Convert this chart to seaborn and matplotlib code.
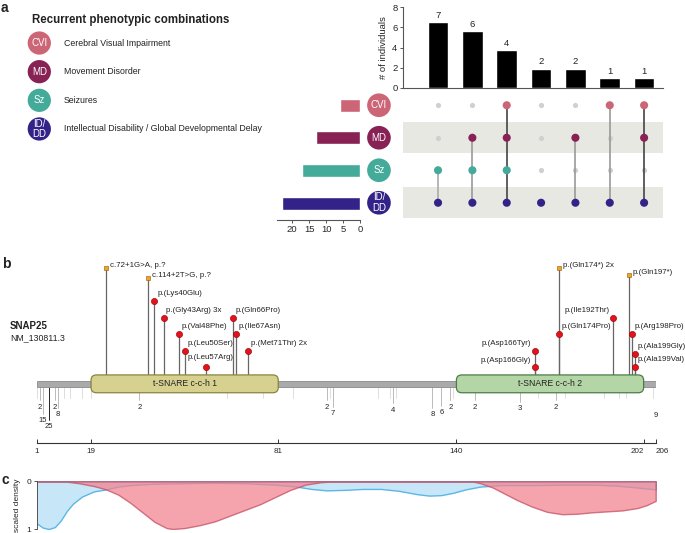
import numpy as np
import pandas as pd
import seaborn as sns
import matplotlib.pyplot as plt
from matplotlib.patches import FancyBboxPatch, Rectangle

# ---- panel a: recurrent phenotype combinations
phenos = ['CVI', 'MD', 'Sz', 'ID/DD']
pheno_tags = ['CVI', 'MD', 'Sz', 'ID/\nDD']
pheno_names = ['Cerebral Visual Impairment', 'Movement Disorder', 'Seizures',
               'Intellectual Disability / Global Developmental Delay']
pheno_colors = ['#CC6677', '#882255', '#44AA99', '#332288']

combo_sets = [['Sz', 'ID/DD'],
              ['MD', 'Sz', 'ID/DD'],
              ['CVI', 'MD', 'Sz', 'ID/DD'],
              ['ID/DD'],
              ['MD', 'ID/DD'],
              ['CVI', 'ID/DD'],
              ['CVI', 'MD', 'ID/DD']]
combo_counts = [7, 6, 4, 2, 2, 1, 1]
combo_bar = [6.5, 5.6, 3.75, 1.9, 1.9, 0.95, 0.95]  # bar tops as drawn in the original

# ---- panel b: SNAP25 variants
var_labels = ['c.72+1G>A, p.?', 'c.114+2T>G, p.?', 'p.(Lys40Glu)', 'p.(Gly43Arg) 3x',
              'p.(Val48Phe)', 'p.(Leu50Ser)', 'p.(Leu57Arg)', 'p.(Gln66Pro)',
              'p.(Ile67Asn)', 'p.(Met71Thr) 2x', 'p.(Asp166Tyr)', 'p.(Asp166Gly)',
              'p.(Gln174*) 2x', 'p.(Gln174Pro)', 'p.(Ile192Thr)', 'p.(Gln197*)',
              'p.(Arg198Pro)', 'p.(Ala199Gly)', 'p.(Ala199Val)']
var_pos = [24, 38, 40, 43, 48, 50, 57, 66, 67, 71, 166, 166, 174, 174, 192, 197, 198, 199, 199]
var_kind = ['trunc', 'trunc', 'mis', 'mis', 'mis', 'mis', 'mis', 'mis', 'mis', 'mis',
            'mis', 'mis', 'trunc', 'mis', 'mis', 'trunc', 'mis', 'mis', 'mis']
var_level = [7.05, 6.4, 5, 4, 3, 2, 1, 4, 3, 2, 2, 1, 7.05, 3, 4, 6.6, 3, 1.8, 1]
var_ha = ['left', 'left', 'left', 'left', 'left', 'left', 'center', 'left', 'left', 'left',
          'right', 'right', 'left', 'left', 'right', 'left', 'left', 'left', 'left']

pop_pos = [1, 2, 3, 5, 7, 8, 10, 12, 16, 19, 35, 64, 76, 86, 97, 98, 99, 114, 118, 119,
           120, 132, 135, 138, 139, 146, 161, 167, 173, 176, 189, 194, 196, 205, 206]
pop_count = [1, 2, 15, 25, 2, 8, 1, 1, 1, 1, 2, 1, 1, 1, 2, 1, 7, 1, 1, 4,
             1, 8, 6, 2, 1, 2, 3, 1, 2, 1, 1, 1, 1, 1, 9]

domain_names = ['t-SNARE c-c-h 1', 't-SNARE c-c-h 2']
domain_start = [19, 140]
domain_end = [81, 202]
prot_ticks = [1, 19, 81, 140, 202, 206]

# ---- panel c: scaled densities along the protein
pop_dens_x = [1, 3, 5, 7, 9, 11, 13, 16, 20, 24, 28, 32, 40, 50, 60, 70, 80, 87, 92, 97,
              103, 109, 115, 121, 127, 131, 135, 139, 143, 148, 155, 165, 175, 185, 193, 200, 206]
pop_dens_y = [0.88, 0.97, 1.0, 0.96, 0.82, 0.62, 0.47, 0.32, 0.21, 0.17, 0.11, 0.08, 0.05,
              0.04, 0.03, 0.04, 0.07, 0.11, 0.16, 0.19, 0.18, 0.16, 0.16, 0.2, 0.27, 0.3,
              0.29, 0.24, 0.17, 0.11, 0.08, 0.08, 0.07, 0.07, 0.09, 0.13, 0.17]
pat_dens_x = [1, 10, 15, 20, 24, 28, 32, 36, 40, 44, 46, 50, 55, 60, 65, 70, 75, 80, 85, 90,
              95, 100, 145, 148, 152, 156, 160, 165, 170, 175, 180, 185, 190, 195, 200, 203, 206]
pat_dens_y = [0.0, 0.0, 0.04, 0.1, 0.17, 0.28, 0.45, 0.65, 0.85, 0.98, 1.0, 0.98, 0.92, 0.84,
              0.72, 0.6, 0.48, 0.33, 0.18, 0.07, 0.02, 0.0, 0.0, 0.04, 0.13, 0.26, 0.39,
              0.53, 0.64, 0.69, 0.68, 0.65, 0.63, 0.61, 0.56, 0.5, 0.41]

set_sizes = [sum(c for s, c in zip(combo_sets, combo_counts) if p in s) for p in phenos]

sns.set_theme(style='white')
plt.rcParams['font.family'] = ['Liberation Sans', 'DejaVu Sans']
plt.rcParams['text.color'] = '#222222'

W, H = 685, 533
fig = plt.figure(figsize=(W / 100, H / 100), dpi=100)


def box(x0, y0, x1, y1):
    return fig.add_axes([x0 / W, 1 - y1 / H, (x1 - x0) / W, (y1 - y0) / H])


# ---------- intersection bars
ax_bar = box(403, 7.3, 663, 87.7)
sns.barplot(x=list(range(len(combo_bar))), y=combo_bar, color='black', width=0.6,
            saturation=1, ax=ax_bar)
for i, (h, c) in enumerate(zip(combo_bar, combo_counts)):
    ax_bar.text(i, h + 0.25, str(c), ha='center', va='bottom', fontsize=6.8)
ax_bar.set_xlim(-1.02, 6.55)
ax_bar.set_ylim(0, 8)
ax_bar.set_yticks([0, 2, 4, 6, 8])
ax_bar.set_xticks([])
ax_bar.set_ylabel('# of individuals', fontsize=6.8, labelpad=3)
sns.despine(ax=ax_bar)
for s in ['left', 'bottom']:
    ax_bar.spines[s].set_color('#555555')
    ax_bar.spines[s].set_linewidth(0.8)
ax_bar.tick_params(axis='y', labelsize=6.8, length=2.5, width=0.7, pad=1.5,
                   left=True, color='#555555')

# ---------- matrix
ax_mat = box(403, 89, 663, 219)
ax_mat.axhspan(0.52, 1.48, color='#e8e8e3', lw=0, zorder=0)
ax_mat.axhspan(2.52, 3.48, color='#e8e8e3', lw=0, zorder=0)
rows = []
for j, sset in enumerate(combo_sets):
    for i, p in enumerate(phenos):
        rows.append({'col': j, 'row': i, 'pheno': p, 'on': p in sset})
mat = pd.DataFrame(rows)
sns.scatterplot(data=mat[~mat['on']], x='col', y='row', color='#d0d0d0', s=14,
                linewidth=0, ax=ax_mat, zorder=1)
line_cols = ['#aaaaaa', '#999999', '#444444', '#999999', '#999999', '#999999', '#444444']
for j in range(len(combo_sets)):
    on = mat[(mat['col'] == j) & mat['on']]['row']
    if len(on) > 1:
        ax_mat.plot([j, j], [on.min(), on.max()], color=line_cols[j], lw=1.2, zorder=2)
sns.scatterplot(data=mat[mat['on']], x='col', y='row', hue='pheno',
                palette=dict(zip(phenos, pheno_colors)), s=34, linewidth=0,
                legend=False, ax=ax_mat, zorder=3)
ax_mat.scatter([-1.72] * 4, range(4), s=290, c=pheno_colors, linewidth=0,
               clip_on=False, zorder=4)
for i, t in enumerate(pheno_tags):
    ax_mat.text(-1.72, i, t, color='white', ha='center', va='center', fontsize=7,
                linespacing=1.1, zorder=5, clip_on=False)
ax_mat.set_xlim(-1.02, 6.55)
ax_mat.set_ylim(3.5, -0.5)
ax_mat.axis('off')

# ---------- set sizes
ax_set = box(277, 89, 360, 219.5)
sns.barplot(x=set_sizes, y=phenos, hue=phenos, palette=pheno_colors, orient='h',
            width=0.4, saturation=1, legend=False, ax=ax_set)
ax_set.set_xlim(24.5, 0)
ax_set.set_ylim(3.5, -0.5)
ax_set.set_xticks([20, 15, 10, 5, 0])
ax_set.set_yticks([])
ax_set.set_xlabel('')
ax_set.set_ylabel('')
for s in ['left', 'top', 'right']:
    ax_set.spines[s].set_visible(False)
ax_set.spines['bottom'].set_color('#555555')
ax_set.spines['bottom'].set_linewidth(0.8)
ax_set.tick_params(axis='x', labelsize=6.8, length=2.5, width=0.7, pad=1.5,
                   bottom=True, color='#555555')

# ---------- legend
ax_leg = box(0, 28.7, 340, 143.3)
ax_leg.set_xlim(0, 340)
ax_leg.set_ylim(3.5, -0.5)
ax_leg.axis('off')
ax_leg.scatter([39.3] * 4, range(4), s=280, c=pheno_colors, linewidth=0)
for i, (t, n) in enumerate(zip(pheno_tags, pheno_names)):
    ax_leg.text(39.3, i, t, color='white', ha='center', va='center', fontsize=7,
                linespacing=1.1)
    ax_leg.text(64, i, n, ha='left', va='center', fontsize=6.3)
fig.text(32 / W, 1 - 20 / H, 'Recurrent phenotypic combinations', fontsize=8.3,
         fontweight='bold', va='center', ha='left')

# ---------- protein (panel b)
ax_prot = box(36.7, 255, 655.7, 460)
ax_prot.set_xlim(1, 206)
ax_prot.set_ylim(-4.606, 7.818)
ax_prot.add_patch(Rectangle((1, -0.21), 205, 0.42, fc='#aaaaaa', ec='#8a8a8a', lw=0.6,
                            zorder=2))
dom_fc = ['#d7d190', '#b4d5a6']
dom_ec = ['#8a8440', '#4d7c47']
for k, name in enumerate(domain_names):
    ax_prot.add_patch(FancyBboxPatch((domain_start[k], -0.53),
                                     domain_end[k] - domain_start[k], 1.08,
                                     boxstyle='round,pad=0,rounding_size=1.8',
                                     mutation_aspect=0.18, fc=dom_fc[k], ec=dom_ec[k],
                                     lw=0.9, zorder=3))
    ax_prot.text((domain_start[k] + domain_end[k]) / 2, 0, name, ha='center',
                 va='center', fontsize=6.2, zorder=4)

# population variants below the protein
for p, c in zip(pop_pos, pop_count):
    end = -0.21 - (5 + 5.5 * np.sqrt(c)) / 16.5
    col = 'black' if c >= 20 else ('#b0b0b0' if c >= 2 else '#d8d8d8')
    ax_prot.plot([p, p], [-0.21, end], color=col, lw=0.6, zorder=1)
    if c >= 2:
        ax_prot.text(p, end - 0.42, str(c), ha='center', va='center', fontsize=5.5)

# patient variants above
for p, lv in zip(var_pos, var_level):
    ax_prot.plot([p, p], [0.55, lv], color='#666666', lw=0.9, zorder=1)
vdf = pd.DataFrame({'pos': var_pos, 'level': var_level, 'kind': var_kind})
sns.scatterplot(data=vdf[vdf['kind'] == 'mis'], x='pos', y='level', color='#e3121b',
                edgecolor='#8b0000', linewidth=0.4, s=20, ax=ax_prot, zorder=5)
sns.scatterplot(data=vdf[vdf['kind'] == 'trunc'], x='pos', y='level', color='#f4a422',
                marker='s', edgecolor='#8a5a00', linewidth=0.4, s=10, ax=ax_prot, zorder=5)
for lab, p, lv, k, ha in zip(var_labels, var_pos, var_level, var_kind, var_ha):
    if ha == 'right':
        off = (-2.7, 5.3)
    elif ha == 'center':
        off = (3.4, 7.2)
    elif k == 'trunc':
        off = (2.6, 1.8)
    else:
        off = (2.0, 5.5)
    ax_prot.annotate(lab, (p, lv), xytext=off, textcoords='offset points', ha=ha,
                     va='center', fontsize=5.7, annotation_clip=False)

ax_prot.set_xlabel('')
ax_prot.set_ylabel('')
ax_prot.set_yticks([])
ax_prot.set_xticks(prot_ticks, labels=[str(t) for t in prot_ticks])
for s in ['left', 'top', 'right']:
    ax_prot.spines[s].set_visible(False)
ax_prot.spines['bottom'].set_position(('data', -3.56))
ax_prot.spines['bottom'].set_color('#333333')
ax_prot.spines['bottom'].set_linewidth(0.8)
ax_prot.tick_params(axis='x', direction='in', length=3, width=0.7, labelsize=5.8,
                    pad=4, bottom=True, color='#333333')
mt = ax_prot.xaxis.get_major_ticks()
mt[4].label1.set_horizontalalignment('right')
mt[5].label1.set_horizontalalignment('left')
fig.text(10 / W, 1 - 326 / H, 'SNAP25', fontsize=7, fontweight='bold', va='center')
fig.text(10 / W, 1 - 337.5 / H, 'NM_130811.3', fontsize=6.3, va='center')

# ---------- densities (panel c)
ax_dens = box(36.7, 481.3, 655.7, 529)
ax_dens.fill_between(pop_dens_x, 0, pop_dens_y, facecolor='#c7e6f7', edgecolor='#5cb6e6',
                     lw=1.0, zorder=1)
ax_dens.fill_between(pat_dens_x, 0, pat_dens_y, facecolor='#f28492', edgecolor='#c44f64',
                     alpha=0.75, lw=1.0, zorder=2)
ax_dens.set_xlim(1, 206)
ax_dens.set_ylim(1, 0)
ax_dens.set_xticks([])
ax_dens.set_yticks([0, 1])
for s in ['top', 'right', 'bottom']:
    ax_dens.spines[s].set_visible(False)
ax_dens.spines['left'].set_color('#555555')
ax_dens.spines['left'].set_linewidth(0.7)
ax_dens.tick_params(axis='y', labelsize=6, length=2.5, width=0.7, pad=1.5, left=True,
                    color='#555555')
ax_dens.set_ylabel('scaled density', fontsize=6, labelpad=4)

# panel letters
fig.text(1 / W, 1 - 1 / H, 'a', fontsize=10, fontweight='bold', va='top')
fig.text(2 / W, 1 - 257 / H, 'b', fontsize=10, fontweight='bold', va='top')
fig.text(2 / W, 1 - 473 / H, 'c', fontsize=10, fontweight='bold', va='top')

fig.savefig('out.png', dpi=100)
